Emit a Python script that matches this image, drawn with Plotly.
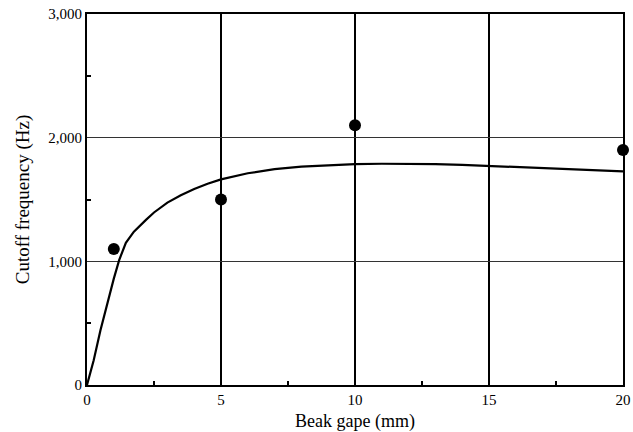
import plotly.graph_objects as go

# Measured data points
gape_pts = [1, 5, 10, 20]
freq_pts = [1100, 1500, 2100, 1900]

# Fitted curve
curve_x = [0, 0.25, 0.5, 0.75, 1.0, 1.2, 1.45, 1.75, 2.0, 2.2, 2.5, 3, 3.5, 4, 4.5, 5, 6, 7, 8, 9, 10,
           11, 12, 13, 14, 15, 16, 17, 18, 19, 20]
curve_y = [0, 200, 440, 660, 860, 1010, 1150, 1240, 1295, 1335, 1395, 1475, 1535, 1585, 1628, 1663, 1712,
           1745, 1766, 1779, 1786, 1789, 1789, 1786, 1780, 1771, 1762, 1754, 1745, 1737, 1728]

x_ticks = [0, 5, 10, 15, 20]
y_ticks = [0, 1000, 2000, 3000]

font = "Liberation Serif, Times New Roman, serif"

fig = go.Figure()
fig.add_trace(go.Scatter(x=curve_x, y=curve_y, mode="lines",
                         line=dict(color="black", width=2.2), showlegend=False))
fig.add_trace(go.Scatter(x=gape_pts, y=freq_pts, mode="markers",
                         marker=dict(color="black", size=12), showlegend=False,
                         cliponaxis=False))

fig.update_layout(
    width=633, height=432,
    margin=dict(l=87, r=10, t=14, b=47),
    paper_bgcolor="white", plot_bgcolor="white",
    font=dict(family=font, color="black", size=15),
    xaxis=dict(
        range=[0, 20], tickvals=x_ticks, ticks="", showgrid=True,
        gridcolor="black", gridwidth=1.8, zeroline=False,
        showline=True, linecolor="black", linewidth=2.2, mirror=True,
        tickfont=dict(size=15, family=font),
        minor=dict(ticks="inside", tickvals=[2.5, 7.5, 12.5, 17.5], ticklen=4,
                   tickcolor="black", tickwidth=1.5, showgrid=False),
        title=dict(text="Beak gape (mm)", font=dict(size=18, family=font), standoff=8),
        automargin=False,
    ),
    yaxis=dict(
        range=[0, 3000], tickvals=y_ticks, tickformat=",", ticks="", showgrid=True,
        gridcolor="#333333", gridwidth=1, zeroline=False,
        showline=True, linecolor="black", linewidth=2.2, mirror=True,
        tickfont=dict(size=15, family=font),
        minor=dict(ticks="inside", tickvals=[500, 1500, 2500], ticklen=4,
                   tickcolor="black", tickwidth=1.5, showgrid=False),
        title=dict(text="Cutoff frequency (Hz)", font=dict(size=19, family=font), standoff=14),
        automargin=False,
    ),
)

fig.write_html("out.html")
